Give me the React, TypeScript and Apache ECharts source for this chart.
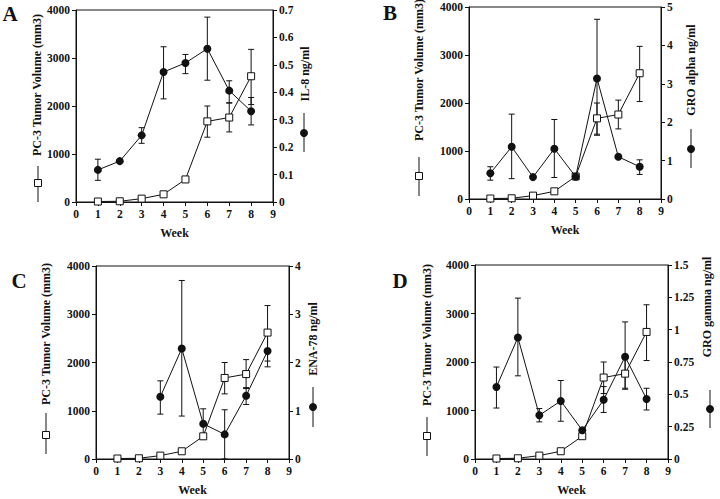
import React, { useEffect, useRef } from "react";
import * as echarts from "echarts";

// ---------- data ----------
const weeks = [1, 2, 3, 4, 5, 6, 7, 8];
const tumorVolume = [10, 15, 70, 160, 470, 1680, 1760, 2620];
const tumorLow = [null, null, null, null, null, 1350, 1460, 2030];
const tumorHigh = [null, null, null, null, null, 2000, 2060, 3180];

const il8 = [0.117, 0.149, 0.243, 0.474, 0.507, 0.559, 0.406, 0.331];
const il8Low = [0.079, null, 0.214, 0.376, 0.468, 0.444, 0.362, 0.281];
const il8High = [0.156, null, 0.271, 0.566, 0.538, 0.674, 0.442, 0.381];

const groAlpha = [0.67, 1.36, 0.57, 1.31, 0.58, 3.14, 1.1, 0.84];
const groAlphaLow = [0.49, 0.53, null, 0.56, null, 1.66, null, 0.64];
const groAlphaHigh = [0.84, 2.21, null, 2.07, null, 4.68, null, 1.02];

const enaWeeks = [3, 4, 5, 6, 7, 8];
const ena78 = [1.29, 2.29, 0.73, 0.51, 1.31, 2.24];
const ena78Low = [0.93, 0.89, 0.41, 0, 1.13, 1.91];
const ena78High = [1.62, 3.7, 1.04, 1.02, 1.48, 2.57];

const groGamma = [0.557, 0.94, 0.338, 0.449, 0.222, 0.458, 0.791, 0.464];
const groGammaLow = [0.394, 0.643, 0.287, 0.292, null, 0.36, 0.539, 0.379];
const groGammaHigh = [0.711, 1.244, 0.39, 0.607, null, 0.56, 1.06, 0.547];

const xTicks = [0, 9, 1];
const tumorTicks = [0, 4000, 1000];

// ---------- layout ----------
const FONT = "'Liberation Serif', 'Times New Roman', serif";
const BLACK = "#111";

type Panel = {
  letter: string;
  grid: { left: number; right: number; top: number; bottom: number };
  rightName: string;
  rightMax: number;
  rightInterval: number;
  x: number[];
  y: number[];
  lo: (number | null)[];
  hi: (number | null)[];
  letterPos: [number, number];
  leftTitle: [number, number];
  leftLegend: [number, number, number, number]; // x, y1, y2, marker y
  rightTitle: [number, number];
  rightLegend: [number, number, number, number];
};

const panels: Panel[] = [
  {
    letter: "A",
    grid: { left: 76, right: 447, top: 10, bottom: 297 },
    rightName: "IL-8 ng/ml",
    rightMax: 0.7,
    rightInterval: 0.1,
    x: weeks, y: il8, lo: il8Low, hi: il8High,
    letterPos: [10, 14],
    leftTitle: [37, 85],
    leftLegend: [38, 166, 202, 183],
    rightTitle: [305, 74],
    rightLegend: [304, 113, 152, 133],
  },
  {
    letter: "B",
    grid: { left: 469, right: 59, top: 7, bottom: 300 },
    rightName: "GRO alpha ng/ml",
    rightMax: 5,
    rightInterval: 1,
    x: weeks, y: groAlpha, lo: groAlphaLow, hi: groAlphaHigh,
    letterPos: [390, 13],
    leftTitle: [419, 70],
    leftLegend: [419, 157, 196, 176],
    rightTitle: [691, 70],
    rightLegend: [691, 129, 168, 149],
  },
  {
    letter: "C",
    grid: { left: 96, right: 431, top: 266, bottom: 40 },
    rightName: "ENA-78 ng/ml",
    rightMax: 4,
    rightInterval: 1,
    x: enaWeeks, y: ena78, lo: ena78Low, hi: ena78High,
    letterPos: [19, 281],
    leftTitle: [46, 334],
    leftLegend: [46, 413, 454, 435],
    rightTitle: [313, 339],
    rightLegend: [313, 387, 427, 407],
  },
  {
    letter: "D",
    grid: { left: 475, right: 52, top: 265, bottom: 40 },
    rightName: "GRO gamma ng/ml",
    rightMax: 1.5,
    rightInterval: 0.25,
    x: weeks, y: groGamma, lo: groGammaLow, hi: groGammaHigh,
    letterPos: [400, 281],
    leftTitle: [427, 335],
    leftLegend: [427, 417, 456, 436],
    rightTitle: [707, 307],
    rightLegend: [710, 390, 428, 409],
  },
];

function errData(x: number[], lo: (number | null)[], hi: (number | null)[]) {
  const out: number[][] = [];
  x.forEach((w, i) => {
    if (lo[i] != null && hi[i] != null) out.push([w, lo[i] as number, hi[i] as number]);
  });
  return out;
}

const renderErr = (params: any, api: any) => {
  const x = api.value(0);
  const pLo = api.coord([x, api.value(1)]);
  const pHi = api.coord([x, api.value(2)]);
  const w = 3;
  const style = { stroke: BLACK, lineWidth: 1 };
  return {
    type: "group",
    children: [
      { type: "line", shape: { x1: pLo[0], y1: pLo[1], x2: pHi[0], y2: pHi[1] }, style },
      { type: "line", shape: { x1: pLo[0] - w, y1: pLo[1], x2: pLo[0] + w, y2: pLo[1] }, style },
      { type: "line", shape: { x1: pHi[0] - w, y1: pHi[1], x2: pHi[0] + w, y2: pHi[1] }, style },
    ],
  };
};

const plain = (v: number) => String(Math.round(v * 1000) / 1000);

function buildOption() {
  const grid: any[] = [];
  const xAxis: any[] = [];
  const yAxis: any[] = [];
  const series: any[] = [];
  const graphic: any[] = [];
  const labelStyle = { color: BLACK, fontFamily: FONT, fontWeight: "bold", fontSize: 11.5 };
  const axisLine = { show: true, lineStyle: { color: BLACK, width: 1 } };
  const axisTick = { show: true, inside: false, length: 4, lineStyle: { color: BLACK } };

  panels.forEach((p, i) => {
    grid.push({
      ...p.grid,
      show: true,
      borderColor: BLACK,
      borderWidth: 1,
      backgroundColor: "transparent",
      containLabel: false,
    });
    xAxis.push({
      type: "value",
      gridIndex: i,
      min: xTicks[0],
      max: xTicks[1],
      interval: xTicks[2],
      name: "Week",
      nameLocation: "middle",
      nameGap: 25,
      nameTextStyle: { ...labelStyle, fontSize: 12 },
      axisLine,
      axisTick,
      axisLabel: { ...labelStyle, margin: 6, formatter: plain },
      splitLine: { show: false },
    });
    yAxis.push({
      type: "value",
      gridIndex: i,
      position: "left",
      min: tumorTicks[0],
      max: tumorTicks[1],
      interval: tumorTicks[2],
      axisLine,
      axisTick,
      axisLabel: { ...labelStyle, margin: 6, formatter: plain },
      splitLine: { show: false },
    });
    yAxis.push({
      type: "value",
      gridIndex: i,
      position: "right",
      min: 0,
      max: p.rightMax,
      interval: p.rightInterval,
      axisLine,
      axisTick,
      axisLabel: { ...labelStyle, margin: 6, formatter: plain },
      splitLine: { show: false },
    });
    const yl = i * 2;
    const yr = i * 2 + 1;
    series.push({
      type: "custom",
      xAxisIndex: i,
      yAxisIndex: yl,
      renderItem: renderErr,
      data: errData(weeks, tumorLow, tumorHigh),
      encode: { x: 0, y: [1, 2] },
      z: 1,
    });
    series.push({
      type: "custom",
      xAxisIndex: i,
      yAxisIndex: yr,
      renderItem: renderErr,
      data: errData(p.x, p.lo, p.hi),
      encode: { x: 0, y: [1, 2] },
      z: 1,
    });
    series.push({
      type: "line",
      xAxisIndex: i,
      yAxisIndex: yl,
      data: weeks.map((w, k) => [w, tumorVolume[k]]),
      symbol: "rect",
      symbolSize: 7,
      lineStyle: { color: BLACK, width: 1 },
      itemStyle: { color: "#fff", borderColor: BLACK, borderWidth: 1 },
      z: 3,
    });
    series.push({
      type: "line",
      xAxisIndex: i,
      yAxisIndex: yr,
      data: p.x.map((w, k) => [w, p.y[k]]),
      symbol: "circle",
      symbolSize: 8,
      lineStyle: { color: BLACK, width: 1 },
      itemStyle: { color: BLACK, borderColor: BLACK, borderWidth: 0 },
      z: 4,
    });

    graphic.push({
      type: "text",
      x: p.letterPos[0],
      y: p.letterPos[1],
      style: {
        text: p.letter,
        font: `bold 21px ${FONT}`,
        fill: BLACK,
        align: "center",
        verticalAlign: "middle",
      },
    });
    graphic.push({
      type: "text",
      x: p.leftTitle[0],
      y: p.leftTitle[1],
      rotation: Math.PI / 2,
      style: {
        text: "PC-3 Tumor Volume (mm3)",
        font: `bold 12px ${FONT}`,
        fill: BLACK,
        align: "center",
        verticalAlign: "middle",
      },
    });
    const L = p.leftLegend;
    graphic.push({
      type: "line",
      shape: { x1: L[0], y1: L[1], x2: L[0], y2: L[2] },
      style: { stroke: BLACK, lineWidth: 1 },
    });
    graphic.push({
      type: "rect",
      shape: { x: L[0] - 3.5, y: L[3] - 3.5, width: 7, height: 7 },
      style: { fill: "#fff", stroke: BLACK, lineWidth: 1 },
    });
    graphic.push({
      type: "text",
      x: p.rightTitle[0],
      y: p.rightTitle[1],
      rotation: Math.PI / 2,
      style: {
        text: p.rightName,
        font: `bold 12px ${FONT}`,
        fill: BLACK,
        align: "center",
        verticalAlign: "middle",
      },
    });
    const R = p.rightLegend;
    graphic.push({
      type: "line",
      shape: { x1: R[0], y1: R[1], x2: R[0], y2: R[2] },
      style: { stroke: BLACK, lineWidth: 1 },
    });
    graphic.push({
      type: "circle",
      shape: { cx: R[0], cy: R[3], r: 4 },
      style: { fill: BLACK },
    });
  });

  return {
    animation: false,
    backgroundColor: "#fff",
    grid,
    xAxis,
    yAxis,
    series,
    graphic,
  };
}

export default function App() {
  const ref = useRef<HTMLDivElement>(null);
  useEffect(() => {
    if (!ref.current) return;
    const chart = echarts.init(ref.current, undefined, { renderer: "svg" });
    chart.setOption(buildOption() as any);
    return () => chart.dispose();
  }, []);
  return (
    <div
      ref={ref}
      style={{ position: "fixed", left: 0, top: 0, width: 720, height: 499, background: "#fff" }}
    />
  );
}
